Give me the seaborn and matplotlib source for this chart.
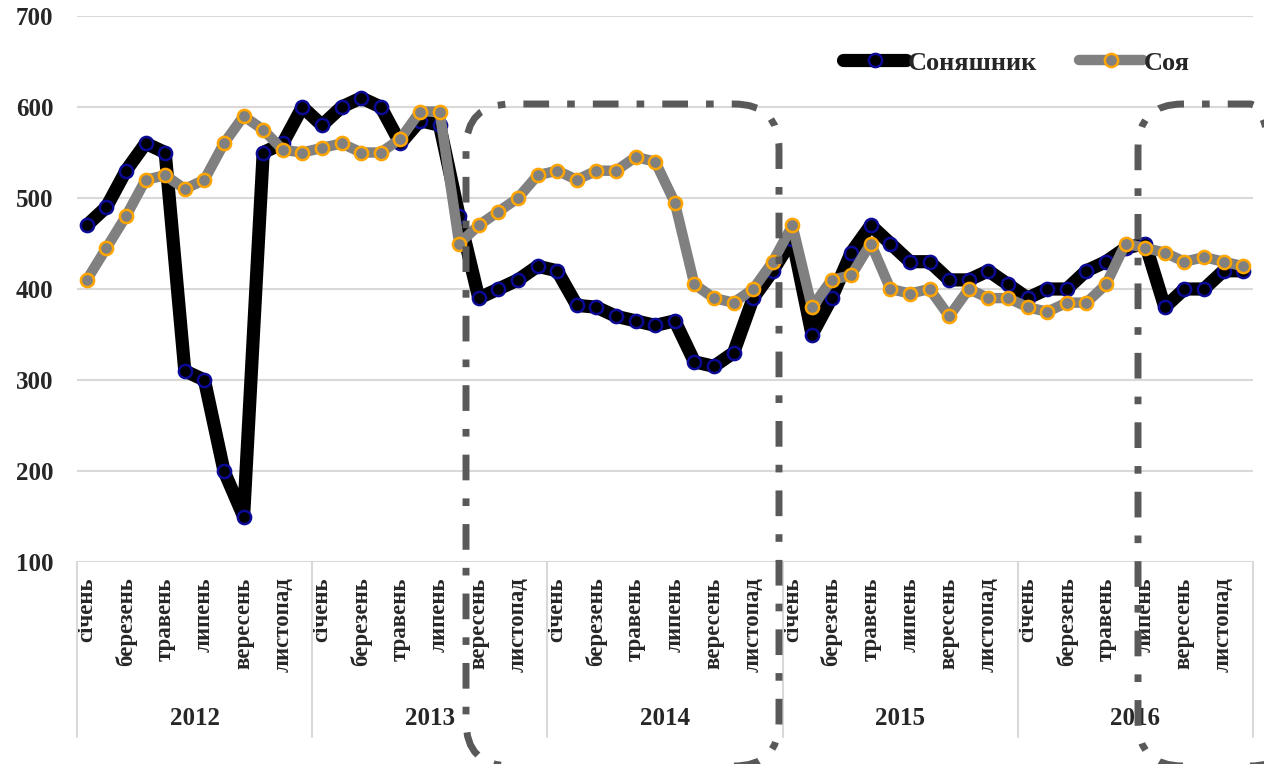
import matplotlib
matplotlib.use("Agg")
import pandas as pd
import matplotlib.pyplot as plt
import matplotlib.patches as mpatches
import matplotlib.transforms as mtransforms
import seaborn as sns

# Monthly prices, Jan 2012 - Dec 2016
YEARS = ["2012", "2013", "2014", "2015", "2016"]
MONTH_LABELS = ["січень", "березень", "травень", "липень", "вересень", "листопад"]

SUNFLOWER = [
    470, 490, 530, 560, 550, 310, 300, 200, 150, 550, 560, 600,
    580, 600, 610, 600, 560, 585, 580, 480, 390, 400, 410, 425,
    420, 382, 380, 370, 365, 360, 365, 320, 315, 330, 390, 420,
    455, 350, 390, 440, 470, 450, 430, 430, 410, 410, 420, 405,
    390, 400, 400, 420, 430, 445, 450, 380, 400, 400, 420, 420,
]
SOY = [
    410, 445, 480, 520, 525, 510, 520, 560, 590, 575, 553, 550,
    555, 560, 550, 550, 565, 595, 595, 450, 470, 485, 500, 525,
    530, 520, 530, 530, 545, 540, 495, 405, 390, 385, 400, 430,
    470, 380, 410, 415, 450, 400, 395, 400, 370, 400, 390, 390,
    380, 375, 385, 385, 405, 450, 445, 440, 430, 435, 430, 425,
]
SERIES_NAMES = ["Соняшник", "Соя"]

sns.set_style("white")
plt.rcParams["font.family"] = ["Liberation Serif", "DejaVu Serif"]
plt.rcParams["font.weight"] = "bold"

df = pd.DataFrame({
    "month": range(len(SUNFLOWER)),
    SERIES_NAMES[0]: SUNFLOWER,
    SERIES_NAMES[1]: SOY,
})

fig = plt.figure(figsize=(12.64, 7.64), dpi=100)
ax = fig.add_axes([77 / 1264, 1 - 562 / 764, (1253 - 77) / 1264, 546 / 764])

sns.lineplot(data=df, x="month", y=SERIES_NAMES[0], ax=ax, color="black", lw=9.5,
             marker="o", ms=9.5, mfc="black", mec="#0a0a96", mew=1.8,
             solid_joinstyle="round", solid_capstyle="round", label=SERIES_NAMES[0], zorder=3)
sns.lineplot(data=df, x="month", y=SERIES_NAMES[1], ax=ax, color="#808080", lw=7.5,
             marker="o", ms=9.5, mfc="#808080", mec="#ffa500", mew=1.8,
             solid_joinstyle="round", solid_capstyle="round", label=SERIES_NAMES[1], zorder=4)

ax.set_xlim(-0.5, len(SUNFLOWER) - 0.5)
ax.set_ylim(100, 700)
ax.set_yticks(range(100, 701, 100))
ax.yaxis.grid(True, color="#d9d9d9", lw=1.5)
ax.set_axisbelow(True)
for s in ax.spines.values():
    s.set_visible(False)
ax.set_xlabel("")
ax.set_ylabel("")
ax.tick_params(axis="y", length=0, pad=17, labelsize=18)

# month labels every second month
ticks = list(range(0, len(SUNFLOWER), 2))
ax.set_xticks(ticks)
ax.set_xticklabels(MONTH_LABELS * len(YEARS), rotation=90, fontsize=16.5, va="top")
ax.tick_params(axis="x", length=0, pad=11)

# year group axis
trans = mtransforms.blended_transform_factory(ax.transData, ax.transAxes)
for k in range(len(YEARS) + 1):
    ax.plot([k * 12 - 0.5] * 2, [0, -0.3205], transform=trans, color="#d9d9d9",
            lw=1.5, clip_on=False)
for k, yr in enumerate(YEARS):
    ax.text(k * 12 + 5.5, -0.2875, yr, transform=trans, ha="center", va="center", fontsize=18)

leg = ax.legend(loc="center right", bbox_to_anchor=(1190 / 1264, 1 - 63 / 764),
                bbox_transform=fig.transFigure, ncol=2, frameon=False, fontsize=19,
                handlelength=2.4, handletextpad=0.05, columnspacing=1.6,
                borderpad=0, borderaxespad=0)

# highlighted periods (dash-dot rounded boxes, pixel coordinates)
for x0, x1 in [(466, 779), (1138, 1295)]:
    box = mpatches.FancyBboxPatch((x0, 764 - 766), x1 - x0, 766 - 104,
                                  boxstyle="round,pad=0,rounding_size=45",
                                  transform=mtransforms.IdentityTransform(),
                                  fill=False, ec="#595959", lw=5,
                                  ls=(0, (3.7, 2.6, 1.1, 2.6)), zorder=5)
    fig.patches.append(box)

fig.savefig("out.png", dpi=100)
